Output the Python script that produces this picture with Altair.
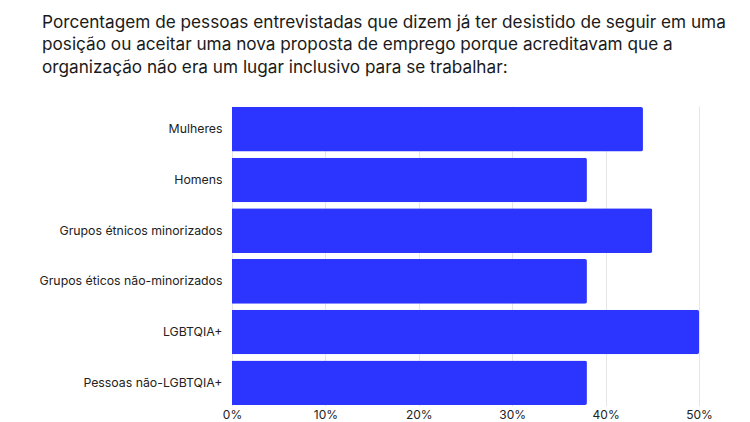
import altair as alt
import pandas as pd

categories = [
    "Mulheres",
    "Homens",
    "Grupos étnicos minorizados",
    "Grupos éticos não-minorizados",
    "LGBTQIA+",
    "Pessoas não-LGBTQIA+",
]
values = [44, 38, 45, 38, 50, 38]

title_lines = [
    "Porcentagem de pessoas entrevistadas que dizem já ter desistido de seguir em uma",
    "posição ou aceitar uma nova proposta de emprego porque acreditavam que a",
    "organização não era um lugar inclusivo para se trabalhar:",
]

df = pd.DataFrame({"cat": categories, "val": values})

FONT = "Inter"

chart = (
    alt.Chart(df)
    .mark_bar(color="#2B35FF", cornerRadiusTopRight=2, cornerRadiusBottomRight=2)
    .encode(
        x=alt.X(
            "val:Q",
            scale=alt.Scale(domain=[0, 50], nice=False),
            axis=alt.Axis(
                title=None,
                values=[0, 10, 20, 30, 40, 50],
                labelExpr="datum.value + '%'",
                domain=False,
                ticks=False,
                grid=True,
                gridColor="#E6E6E6",
                labelFont=FONT,
                labelFontSize=12,
                labelColor="#222222",
                labelPadding=3,
                labelFlush=False,
            ),
        ),
        y=alt.Y(
            "cat:N",
            sort=categories,
            scale=alt.Scale(paddingInner=0.12, paddingOuter=0.02),
            axis=alt.Axis(
                title=None,
                domain=False,
                ticks=False,
                grid=False,
                labelFont=FONT,
                labelFontSize=12.3,
                labelColor="#222222",
                labelPadding=10,
                labelLimit=300,
            ),
        ),
    )
    .properties(
        width=467,
        height=300,
        title=alt.Title(
            title_lines,
            anchor="start",
            frame="group",
            dx=-190,
            offset=30,
            font=FONT,
            fontSize=17.2,
            fontWeight="normal",
            color="#1a1a1a",
            lineHeight=22.5,
        ),
        autosize=alt.AutoSizeParams(type="none"),
        padding={"left": 232, "top": 106, "right": 51, "bottom": 16},
    )
    .configure_view(stroke=None)
)

chart.save("out.html", embed_options={"renderer": "svg", "actions": False})
